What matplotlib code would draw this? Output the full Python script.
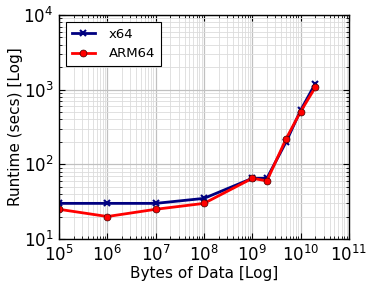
import matplotlib
matplotlib.use("Agg")
import matplotlib.pyplot as plt
from matplotlib.ticker import LogLocator, NullFormatter

sizes = [1e5, 1e6, 1e7, 1e8, 1e9, 2e9, 5e9, 1e10, 2e10]
x64 = [30, 30, 30, 35, 65, 65, 200, 530, 1200]
arm64 = [25, 20, 25, 30, 65, 60, 220, 510, 1070]

plt.rcParams['font.family'] = ['DejaVu Sans']
fig = plt.figure(figsize=(3.74, 2.86), dpi=100)
ax = fig.add_axes([59/374, 1-239/286, 290/374, 224/286])

ax.plot(sizes, x64, color='navy', marker='x', markersize=5, markeredgewidth=1.5,
        linewidth=2, label='x64')
ax.plot(sizes, arm64, color='red', marker='o', markersize=5, markeredgecolor='#400000',
        markeredgewidth=0.5, linewidth=2, label='ARM64')

ax.set_xscale('log')
ax.set_yscale('log')
ax.set_xlim(1e5, 1e11)
ax.set_ylim(10, 1e4)
for axis in (ax.xaxis, ax.yaxis):
    axis.set_major_locator(LogLocator(base=10, numticks=20))
    axis.set_minor_locator(LogLocator(base=10, subs=range(2, 10), numticks=100))
    axis.set_minor_formatter(NullFormatter())
ax.grid(True, which='major', color='#c0c0c0', linewidth=0.9)
ax.grid(True, which='minor', color='#dcdcdc', linewidth=0.6)
ax.set_axisbelow(True)
ax.tick_params(which='both', direction='in', labelsize=12, top=True, right=True)
ax.tick_params(which='major', length=4, pad=4)
ax.tick_params(which='minor', length=2)
for s in ax.spines.values():
    s.set_color('black')
    s.set_linewidth(1)
ax.set_xlabel('Bytes of Data [Log]', fontsize=11, labelpad=1)
ax.set_ylabel('Runtime (secs) [Log]', fontsize=11, labelpad=0)
leg = ax.legend(loc='upper left', fontsize=9.5, fancybox=False, edgecolor='black',
                framealpha=1, handlelength=1.8, handletextpad=1.0, borderpad=0.45,
                labelspacing=0.5, borderaxespad=0.5)
leg.get_frame().set_linewidth(0.8)

fig.savefig('out.png', dpi=100)
